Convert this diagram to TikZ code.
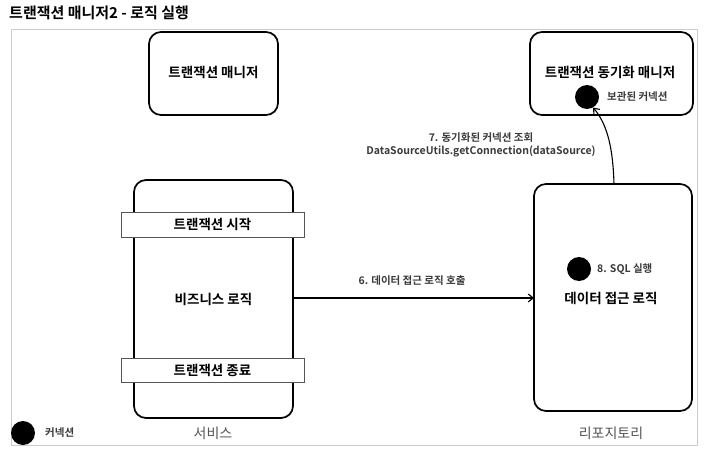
\documentclass[tikz,border=0pt]{standalone}
\usepackage{fontspec}
\setmainfont{Noto Sans CJK KR}
\newfontfamily\krbold{Noto Sans CJK KR Bold}
\usetikzlibrary{arrows.meta}
\definecolor{framegray}{HTML}{CCCCCC}
\definecolor{labelgray}{HTML}{3A3A3A}
\definecolor{softgray}{HTML}{555555}
\tikzset{
  sketchbox/.style={draw=black, line width=1.7pt, rounded corners=12pt},
  bandbox/.style={draw=softgray, line width=0.6pt, fill=white},
  mainlabel/.style={font=\krbold\fontsize{13.5}{15}\selectfont, text=black, inner sep=0pt},
  smalllabel/.style={font=\krbold\fontsize{10.5}{12}\selectfont, text=labelgray, inner sep=0pt, align=center},
  caption/.style={font=\fontsize{14}{16}\selectfont, text=softgray, inner sep=0pt},
  conn/.style={fill=black, circle, minimum size=24pt, inner sep=0pt},
  arrowline/.style={draw=black, line width=1.1pt, -{Straight Barb[length=5pt,width=8pt]}}
}
\begin{document}
\begin{tikzpicture}[x=1pt,y=-1pt]
\useasboundingbox (0,0) rectangle (704,452);
\fill[white] (0,0) rectangle (704,452);
% title
\node[anchor=west, inner sep=0pt, font=\krbold\fontsize{15}{17}\selectfont] (title) at (9,13) {트랜잭션 매니저2 - 로직 실행};
% outer frame
\draw[framegray, line width=0.8pt] (11,29) rectangle (697,445);
% transaction manager
\draw[sketchbox] (149,32) rectangle (278,115);
\node[mainlabel] (tm) at (213.5,72) {트랜잭션 매니저};
% sync manager
\draw[sketchbox] (530,32) rectangle (693,115);
\node[mainlabel] (sm) at (610,72) {트랜잭션 동기화 매니저};
\node[conn] (kept) at (587,97) {};
\node[smalllabel, anchor=west] (keptlbl) at (607,97) {보관된 커넥션};
% service
\draw[sketchbox] (134,180) rectangle (293,418);
\coordinate (svcright) at (293,298);
\draw[bandbox] (121,212) rectangle (304,237);
\node[mainlabel] (txstart) at (212.5,224.5) {트랜잭션 시작};
\node[mainlabel] (biz) at (213.5,299) {비즈니스 로직};
\draw[bandbox] (121,358) rectangle (304,382);
\node[mainlabel] (txend) at (212.5,370) {트랜잭션 종료};
\node[caption] (svclbl) at (213,433) {서비스};
% repository
\draw[sketchbox] (534,184) rectangle (692,411);
\coordinate (repoleft) at (534,298);
\coordinate (repotop) at (614,184);
\node[conn] (sql) at (579,269) {};
\node[smalllabel, anchor=west] (sqllbl) at (597,269) {8. SQL 실행};
\node[mainlabel] (dal) at (611,298) {데이터 접근 로직};
\node[caption] (repolbl) at (611,433) {리포지토리};
% arrows
\draw[arrowline] (svcright) -- (repoleft);
\node[smalllabel] (lbl6) at (412,281) {6. 데이터 접근 로직 호출};
\draw[arrowline] (repotop) .. controls (613,150) and (608,125) .. (kept.-60);
\node[smalllabel] (lbl7) at (481,145) {7. 동기화된 커넥션 조회\\[1pt]DataSourceUtils.getConnection(dataSource)};
% legend
\node[conn] (legend) at (23,433) {};
\node[smalllabel, anchor=west] (legendlbl) at (45,433) {커넥션};
\end{tikzpicture}
\end{document}
